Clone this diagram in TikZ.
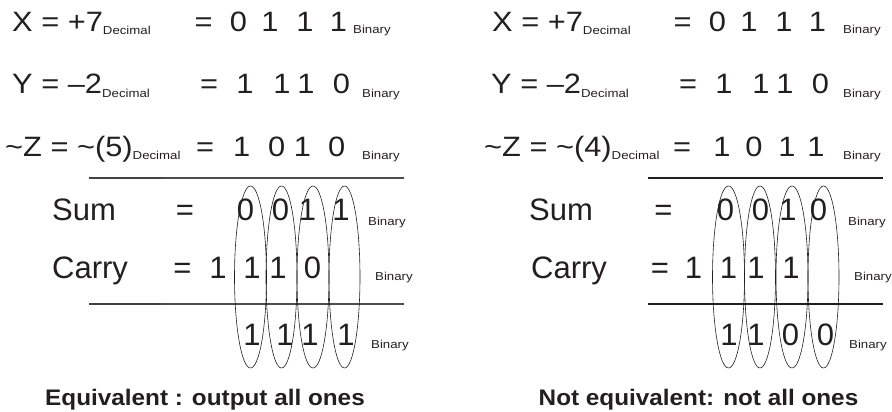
\documentclass[tikz,border=0pt]{standalone}
\usepackage{fontspec}
\setmainfont{Liberation Sans}
\newfontfamily\topfont{Liberation Sans}[FakeStretch=1.1]
\newfontfamily\subfont{Liberation Sans}[FakeStretch=1.15]
\newfontfamily\capfont{Liberation Sans}[FakeStretch=1.08]
\newcommand{\tl}{\char"7E\relax}
\newcommand{\dsub}[1]{\raisebox{-3pt}{\subfont\fontsize{11.5}{12}\selectfont #1}}
\definecolor{ink}{HTML}{231F20}
\tikzset{
  lhs/.style={font=\topfont\fontsize{28}{28}\selectfont, inner sep=0pt, anchor=base west, text=ink},
  topd/.style={font=\topfont\fontsize{28}{28}\selectfont, inner sep=0pt, anchor=base, text=ink},
  big/.style={font=\fontsize{31}{31}\selectfont, inner sep=0pt, anchor=base, text=ink},
  bigw/.style={font=\fontsize{31}{31}\selectfont, inner sep=0pt, anchor=base west, text=ink},
  sub/.style={font=\subfont\fontsize{11.5}{12}\selectfont, inner sep=0pt, anchor=base west, text=ink},
  captext/.style={font=\capfont\bfseries\fontsize{22.5}{23}\selectfont, inner sep=0pt, anchor=base, text=ink},
  rule/.style={line width=1.3pt, draw=ink!80},
  rulethick/.style={line width=2.2pt, draw=ink!85},
  oval/.style={line width=0.6pt, draw=ink}
}
\begin{document}
\begin{tikzpicture}[x=1pt,y=-1pt]
\useasboundingbox (0,0) rectangle (892,412);

% ================= LEFT PANEL =================
% row X
\node[lhs] (lx) at (12,32) {X = +7\dsub{Decimal}};
\node[topd] (lxe) at (203.5,32) {=};
\node[topd] (lx1) at (238.5,32) {0};
\node[topd] (lx2) at (270,32) {1};
\node[topd] (lx3) at (305,32) {1};
\node[topd] (lx4) at (338.5,32) {1};
\node[sub] (lxb) at (353,34) {Binary};
% row Y
\node[lhs] (ly) at (12,94) {Y = –2\dsub{Decimal}};
\node[topd] (lye) at (209,94) {=};
\node[topd] (ly1) at (245,94) {1};
\node[topd] (ly2) at (282,94) {1};
\node[topd] (ly3) at (306,94) {1};
\node[topd] (ly4) at (341.5,94) {0};
\node[sub] (lyb) at (362,97) {Binary};
% row Z
\node[lhs] (lz) at (5,156) {\tl Z = \tl(5)\dsub{Decimal}};
\node[topd] (lze) at (205,156) {=};
\node[topd] (lz1) at (241.7,156) {1};
\node[topd] (lz2) at (276.7,156) {0};
\node[topd] (lz3) at (302.4,156) {1};
\node[topd] (lz4) at (336.7,156) {0};
\node[sub] (lzb) at (362,159) {Binary};
% rule 1
\coordinate (la1) at (89,178);
\coordinate (la2) at (404,178);
\coordinate (la3) at (161,178);
\draw[rule] (la1) -- (la2);
\draw[rulethick] (la1) -- (la3);
% Sum
\node[bigw] (ls) at (52,220) {Sum};
\node[big] (lse) at (185,220) {=};
\node[big] (ls1) at (245.5,220) {0};
\node[big] (ls2) at (280.5,220) {0};
\node[big] (ls3) at (307.5,220) {1};
\node[big] (ls4) at (341,220) {1};
\node[sub] (lsb) at (368,225) {Binary};
% Carry
\node[bigw] (lc) at (52,278) {Carry};
\node[big] (lce) at (182.5,278) {=};
\node[big] (lc0) at (218,278) {1};
\node[big] (lc1) at (252,278) {1};
\node[big] (lc2) at (278,278) {1};
\node[big] (lc3) at (312.5,278) {0};
\node[sub] (lcb) at (375,280) {Binary};
% rule 2
\coordinate (lb1) at (89,304);
\coordinate (lb2) at (404,304);
\coordinate (lb3) at (161,304);
\draw[rule] (lb1) -- (lb2);
\draw[rulethick] (lb1) -- (lb3);
% Result
\node[big] (lr1) at (252,345) {1};
\node[big] (lr2) at (285,345) {1};
\node[big] (lr3) at (310,345) {1};
\node[big] (lr4) at (346,345) {1};
\node[sub] (lrb) at (371,348) {Binary};
% ellipses
\draw[oval] (250.5,277) ellipse (16 and 91);
\draw[oval] (281.5,277) ellipse (15.5 and 91);
\draw[oval] (313,277) ellipse (16 and 91);
\draw[oval] (344.5,277) ellipse (15.5 and 91);
% caption
\node[captext] (lcap) at (205,405) {Equivalent : output all ones};

% ================= RIGHT PANEL =================
% row X
\node[lhs] (rx) at (492,32) {X = +7\dsub{Decimal}};
\node[topd] (rxe) at (682.5,32) {=};
\node[topd] (rx1) at (717.5,32) {0};
\node[topd] (rx2) at (749,32) {1};
\node[topd] (rx3) at (784,32) {1};
\node[topd] (rx4) at (817.5,32) {1};
\node[sub] (rxb) at (843,34) {Binary};
% row Y
\node[lhs] (ry) at (491,94) {Y = –2\dsub{Decimal}};
\node[topd] (rye) at (688,94) {=};
\node[topd] (ry1) at (724,94) {1};
\node[topd] (ry2) at (761,94) {1};
\node[topd] (ry3) at (785,94) {1};
\node[topd] (ry4) at (820.5,94) {0};
\node[sub] (ryb) at (843,97) {Binary};
% row Z
\node[lhs] (rz) at (484,156) {\tl Z = \tl(4)\dsub{Decimal}};
\node[topd] (rze) at (682,156) {=};
\node[topd] (rz1) at (722,156) {1};
\node[topd] (rz2) at (754,156) {0};
\node[topd] (rz3) at (787,156) {1};
\node[topd] (rz4) at (816,156) {1};
\node[sub] (rzb) at (843,159) {Binary};
% rule 1
\coordinate (ra1) at (648,178);
\coordinate (ra2) at (883,178);
\coordinate (ra3) at (703,178);
\draw[rule, draw=ink] (ra1) -- (ra2);
\draw[rulethick, draw=ink] (ra1) -- (ra3);
% Sum
\node[bigw] (rs) at (529,220) {Sum};
\node[big] (rse) at (663.5,220) {=};
\node[big] (rs1) at (725.5,220) {0};
\node[big] (rs2) at (760.5,220) {0};
\node[big] (rs3) at (788,220) {1};
\node[big] (rs4) at (818.5,220) {0};
\node[sub] (rsb) at (848,225) {Binary};
% Carry
\node[bigw] (rc) at (531,278) {Carry};
\node[big] (rce) at (660,278) {=};
\node[big] (rc0) at (693.5,278) {1};
\node[big] (rc1) at (728.5,278) {1};
\node[big] (rc2) at (756,278) {1};
\node[big] (rc3) at (791,278) {1};
\node[sub] (rcb) at (854,280) {Binary};
% rule 2
\coordinate (rb1) at (648,304);
\coordinate (rb2) at (883,304);
\coordinate (rb3) at (703,304);
\draw[rule, draw=ink] (rb1) -- (rb2);
\draw[rulethick, draw=ink] (rb1) -- (rb3);
% Result
\node[big] (rr1) at (729,345) {1};
\node[big] (rr2) at (756,345) {1};
\node[big] (rr3) at (790.5,345) {0};
\node[big] (rr4) at (825.5,345) {0};
\node[sub] (rrb) at (849,348) {Binary};
% ellipses
\draw[oval] (728.5,277) ellipse (16 and 91);
\draw[oval] (760,277) ellipse (15.5 and 91);
\draw[oval] (792,277) ellipse (16 and 91);
\draw[oval] (823.5,277) ellipse (15.5 and 91);
% caption
\node[captext] (rcap) at (698.5,405) {Not equivalent: not all ones};
\end{tikzpicture}
\end{document}
